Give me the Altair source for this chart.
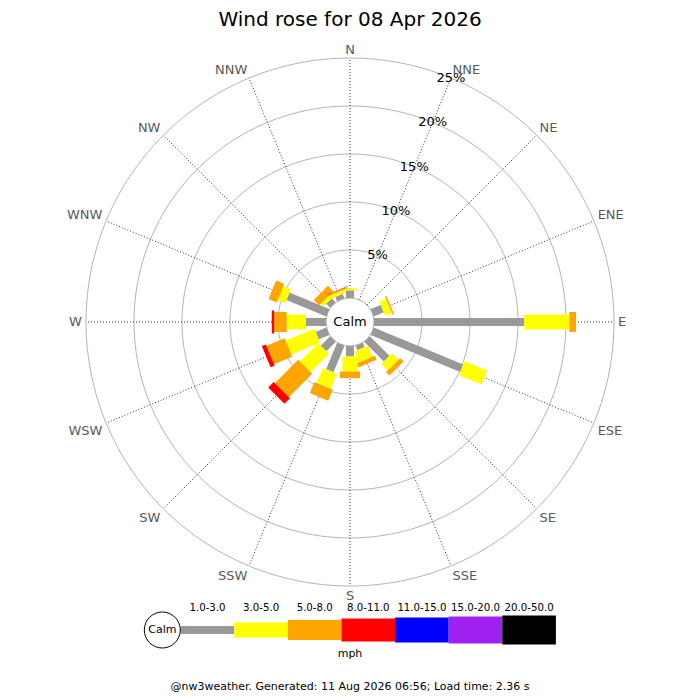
import numpy as np
import pandas as pd
import altair as alt

# ---------- data ----------

DIRECTIONS = ["N", "NNE", "NE", "ENE", "E", "ESE", "SE", "SSE",
              "S", "SSW", "SW", "WSW", "W", "WNW", "NW", "NNW"]

SPEED_BINS = ["1.0-3.0", "3.0-5.0", "5.0-8.0", "8.0-11.0",
              "11.0-15.0", "15.0-20.0", "20.0-50.0"]
BIN_COLORS = ["#999999", "#ffff00", "#ffa500", "#ff0000",
              "#0000ff", "#a020f0", "#000000"]
BIN_WIDTHS = [8, 15, 20, 23, 25, 27, 29]

# % of the day per direction, one list per speed bin (N .. NNW)
PCT_1_3 = [0.8, 0.0, 0.0, 1.15, 15.65, 10.1, 2.9, 0.5, 1.1, 3.0, 1.4, 1.2, 2.1, 4.5, 0.6, 0.5]
PCT_3_5 = [0.2, 0.0, 0.0, 0.75, 4.7, 2.55, 0.95, 1.25, 1.55, 1.7, 2.7, 3.25, 2.0, 0.85, 0.4, 0.35]
PCT_5_8 = [0.0, 0.0, 0.0, 0.15, 0.7, 0.0, 0.5, 0.45, 0.7, 1.25, 3.45, 2.05, 1.3, 0.9, 0.8, 0.15]
PCT_8_11 = [0.0, 0.0, 0.0, 0.0, 0.0, 0.0, 0.0, 0.0, 0.0, 0.0, 0.8, 0.45, 0.25, 0.0, 0.0, 0.05]
PCT_11_15 = [0.0, 0.0, 0.0, 0.0, 0.0, 0.0, 0.0, 0.0, 0.0, 0.0, 0.0, 0.0, 0.0, 0.0, 0.0, 0.0]
PCT_15_20 = [0.0, 0.0, 0.0, 0.0, 0.0, 0.0, 0.0, 0.0, 0.0, 0.0, 0.0, 0.0, 0.0, 0.0, 0.0, 0.0]
PCT_20_50 = [0.0, 0.0, 0.0, 0.0, 0.0, 0.0, 0.0, 0.0, 0.0, 0.0, 0.0, 0.0, 0.0, 0.0, 0.0, 0.0]

RINGS = [5, 10, 15, 20, 25]

TITLE = "Wind rose for 08 Apr 2026"
FOOTER = "@nw3weather. Generated: 11 Aug 2026 06:56; Load time: 2.36 s"
UNITS = "mph"

# ---------- geometry ----------

PX = 9.6          # pixels per percent
CALM = 2.5        # calm circle radius, in percent units (24 px)
CX, CY = 350, 322  # rose centre on the page
SIZE = 684
FONT = "DejaVu Sans"


def ux(px):
    return (px - CX) / PX


def uy(py):
    return (CY - py) / PX


xs = alt.Scale(domain=[ux(8), ux(8 + SIZE)], nice=False, zero=False)
ys = alt.Scale(domain=[uy(8 + SIZE), uy(8)], nice=False, zero=False)


def X(f):
    return alt.X(f, type="quantitative", scale=xs, axis=None)


def Y(f):
    return alt.Y(f, type="quantitative", scale=ys, axis=None)


color_enc = alt.Color("bin:N", scale=alt.Scale(domain=SPEED_BINS, range=BIN_COLORS), legend=None)
width_enc = alt.StrokeWidth("bin:N", scale=alt.Scale(type="ordinal", domain=SPEED_BINS, range=BIN_WIDTHS),
                            legend=None)

# stacked bars
series = [PCT_1_3, PCT_3_5, PCT_5_8, PCT_8_11, PCT_11_15, PCT_15_20, PCT_20_50]
rows = []
for i, d in enumerate(DIRECTIONS):
    a = np.radians(i * 22.5)
    r = CALM
    for b, vals in zip(SPEED_BINS, series):
        v = vals[i]
        if v <= 0:
            continue
        rows.append(dict(dir=d, bin=b, pct=v,
                         x=r * np.sin(a), y=r * np.cos(a),
                         x2=(r + v) * np.sin(a), y2=(r + v) * np.cos(a)))
        r += v
bars_df = pd.DataFrame(rows)

# rings and spokes
ring_rows = []
for p in RINGS:
    for k in range(0, 361, 2):
        t = np.radians(k)
        ring_rows.append(dict(ring=p, k=k, x=(CALM + p) * np.sin(t), y=(CALM + p) * np.cos(t)))
ring_df = pd.DataFrame(ring_rows)

outer = CALM + RINGS[-1]
spoke_df = pd.DataFrame({
    "dir": DIRECTIONS,
    "x": 0.0, "y": 0.0,
    "x2": [outer * np.sin(np.radians(i * 22.5)) for i in range(16)],
    "y2": [outer * np.cos(np.radians(i * 22.5)) for i in range(16)],
})

lab_r = outer + 0.42
lab_df = pd.DataFrame({"dir": DIRECTIONS})
lab_df["s"] = [np.sin(np.radians(i * 22.5)) for i in range(16)]
lab_df["c"] = [np.cos(np.radians(i * 22.5)) for i in range(16)]
lab_df["x"] = lab_r * lab_df["s"]
lab_df["y"] = lab_r * lab_df["c"]
lab_df["align"] = np.where(lab_df["s"] > 0.1, "left", np.where(lab_df["s"] < -0.1, "right", "center"))
lab_df["base"] = np.where(lab_df["c"] > 0.1, "alphabetic", np.where(lab_df["c"] < -0.1, "top", "middle"))

nne = np.radians(22.5)
pct_df = pd.DataFrame({
    "label": [f"{p}%" for p in RINGS],
    "x": [(CALM + p) * np.sin(nne) for p in RINGS],
    "y": [(CALM + p) * np.cos(nne) for p in RINGS],
})

# ---------- layers ----------

rings = alt.Chart(ring_df).mark_line(color="#b4b4b4", strokeWidth=1).encode(
    x=X("x"), y=Y("y"), detail="ring:N", order="k:Q")

spokes = alt.Chart(spoke_df).mark_rule(color="#333333", strokeWidth=1, strokeDash=[1, 2]).encode(
    x=X("x"), y=Y("y"), x2="x2", y2="y2")

bars = alt.Chart(bars_df).mark_rule(strokeCap="butt").encode(
    x=X("x"), y=Y("y"), x2="x2", y2="y2", color=color_enc, strokeWidth=width_enc,
    tooltip=["dir", "bin", "pct"])

centre = pd.DataFrame({"x": [0.0], "y": [0.0], "label": ["Calm"]})
calm_disk = alt.Chart(centre).mark_point(
    shape="circle", filled=True, fill="white", stroke="#aaaaaa", strokeWidth=1,
    opacity=1, size=(2 * CALM * PX) ** 2).encode(x=X("x"), y=Y("y"))
calm_text = alt.Chart(centre).mark_text(font=FONT, fontSize=13, color="black").encode(
    x=X("x"), y=Y("y"), text="label")

pct_text = alt.Chart(pct_df).mark_text(font=FONT, fontSize=13, color="black").encode(
    x=X("x"), y=Y("y"), text="label")

dir_layers = []
for (al, bl), g in lab_df.groupby(["align", "base"]):
    dir_layers.append(
        alt.Chart(g[["dir", "x", "y"]]).mark_text(
            font=FONT, fontSize=13, color="#5a5a5a", align=al, baseline=bl
        ).encode(x=X("x"), y=Y("y"), text="dir"))

# legend
LEG_X0, LEG_STEP, LEG_Y = 180.7, 53.6, 630
leg_df = pd.DataFrame({
    "bin": SPEED_BINS,
    "x": [ux(LEG_X0 + i * LEG_STEP) for i in range(len(SPEED_BINS))],
    "x2": [ux(LEG_X0 + (i + 1) * LEG_STEP) for i in range(len(SPEED_BINS))],
    "y": uy(LEG_Y),
})
leg_df["xm"] = (leg_df["x"] + leg_df["x2"]) / 2
leg_df["ylab"] = uy(611)

leg_bars = alt.Chart(leg_df).mark_rule(strokeCap="butt").encode(
    x=X("x"), y=Y("y"), x2="x2", y2="y", color=color_enc, strokeWidth=width_enc)
leg_labels = alt.Chart(leg_df).mark_text(font=FONT, fontSize=10.2, color="black", baseline="alphabetic").encode(
    x=X("xm"), y=Y("ylab"), text="bin")

leg_calm_df = pd.DataFrame({"x": [ux(162.3)], "y": [uy(LEG_Y)], "label": ["Calm"]})
leg_calm = alt.Chart(leg_calm_df).mark_point(
    shape="circle", filled=True, fill="white", stroke="black", strokeWidth=1,
    opacity=1, size=36 ** 2).encode(x=X("x"), y=Y("y"))
leg_calm_text = alt.Chart(leg_calm_df).mark_text(font=FONT, fontSize=11, color="black").encode(
    x=X("x"), y=Y("y"), text="label")

notes_df = pd.DataFrame({
    "x": [0.0, 0.0, 0.0],
    "y": [uy(26), uy(657), uy(690)],
    "label": [TITLE, UNITS, FOOTER],
    "kind": ["title", "units", "footer"],
})
title = alt.Chart(notes_df[notes_df.kind == "title"]).mark_text(
    font=FONT, fontSize=20, color="black", baseline="alphabetic").encode(x=X("x"), y=Y("y"), text="label")
small = alt.Chart(notes_df[notes_df.kind != "title"]).mark_text(
    font=FONT, fontSize=11, color="black", baseline="alphabetic").encode(x=X("x"), y=Y("y"), text="label")

chart = alt.layer(
    rings, spokes, bars, calm_disk, calm_text, pct_text, *dir_layers,
    leg_bars, leg_calm, leg_calm_text, leg_labels, title, small,
).properties(
    width=SIZE, height=SIZE, padding=0,
    autosize=alt.AutoSizeParams(type="none"),
).configure_view(stroke=None)

chart.save("out.html", embed_options={"renderer": "svg", "actions": False})
